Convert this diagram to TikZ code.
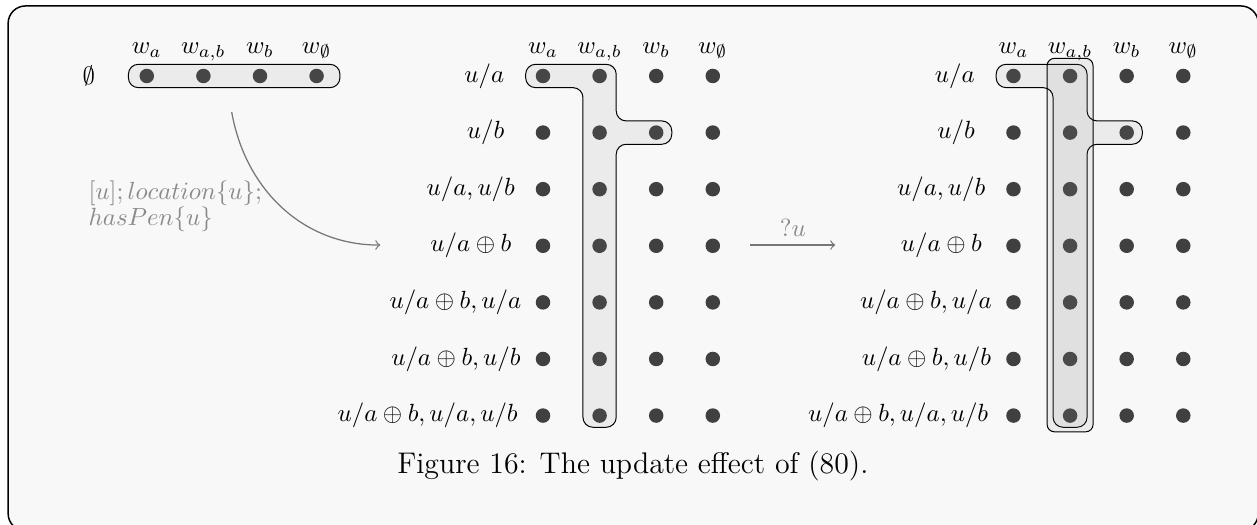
\documentclass[tikz,border=0pt]{standalone}
\usepackage{xcolor}
\usepackage{tikz}

\definecolor{dotgray}{HTML}{404040}
\definecolor{paper}{HTML}{F8F8F8}
\definecolor{labgray}{HTML}{8A8A8A}
\definecolor{arrgray}{HTML}{767676}

\tikzset{
  gdot/.style={circle,fill=dotgray,inner sep=0pt,minimum size=0.205cm},
  rowlab/.style={anchor=east,inner sep=0pt},
  collab/.style={anchor=base,inner sep=0pt},
  blob/.style={draw=black,line width=0.4pt,fill=gray,fill opacity=0.1,rounded corners=4pt},
  update/.style={draw=arrgray,line width=0.5pt,->}
}

\begin{document}
\begin{tikzpicture}
        \useasboundingbox (-7.675,-6.346) rectangle (10.092,1.074);
        \clip (-7.675,-6.346) rectangle (10.092,1.074);
        \draw[line width=0.6pt,fill=paper,rounded corners=7pt] (-7.56,-6.43) rectangle (10.11,0.99);

        % empty state
        \node (E0) at (-6.42,0) {$\emptyset$};
        \node[collab] (Ew1) at (-5.6,0.32) {$w_a$};
        \node[collab] (Ew2) at (-4.8,0.32) {$w_{a,b}$};
        \node[collab] (Ew3) at (-4.0,0.32) {$w_b$};
        \node[collab] (Ew4) at (-3.2,0.32) {$w_\emptyset$};
        \node[gdot] (E1) at (-5.6,0) {}; \node[gdot] (E2) at (-4.8,0) {}; \node[gdot] (E3) at (-4.0,0) {}; \node[gdot] (E4) at (-3.2,0) {};
        \draw[blob] (-5.86,-0.165) rectangle (-2.87,0.165);

        % after the first update
        \node[collab] (Lw1) at (0,0.32) {$w_a$};
        \node[collab] (Lw2) at (0.8,0.32) {$w_{a,b}$};
        \node[collab] (Lw3) at (1.6,0.32) {$w_b$};
        \node[collab] (Lw4) at (2.4,0.32) {$w_\emptyset$};
        \node[rowlab] (Lr1) at (-0.54,0) {$u/a$};
        \node[rowlab] (Lr2) at (-0.54,-0.8) {$u/b$};
        \node[rowlab] (Lr3) at (-0.39,-1.6) {$u/a,u/b$};
        \node[rowlab] (Lr4) at (-0.44,-2.4) {$u/a\oplus b$};
        \node[rowlab] (Lr5) at (-0.30,-3.2) {$u/a\oplus b,u/a$};
        \node[rowlab] (Lr6) at (-0.31,-4.0) {$u/a\oplus b,u/b$};
        \node[rowlab] (Lr7) at (-0.35,-4.8) {$u/a\oplus b,u/a,u/b$};
        \node[gdot] (L11) at (0,0) {}; \node[gdot] (L12) at (0.8,0) {}; \node[gdot] (L13) at (1.6,0) {}; \node[gdot] (L14) at (2.4,0) {};
        \node[gdot] (L21) at (0,-0.8) {}; \node[gdot] (L22) at (0.8,-0.8) {}; \node[gdot] (L23) at (1.6,-0.8) {}; \node[gdot] (L24) at (2.4,-0.8) {};
        \node[gdot] (L31) at (0,-1.6) {}; \node[gdot] (L32) at (0.8,-1.6) {}; \node[gdot] (L33) at (1.6,-1.6) {}; \node[gdot] (L34) at (2.4,-1.6) {};
        \node[gdot] (L41) at (0,-2.4) {}; \node[gdot] (L42) at (0.8,-2.4) {}; \node[gdot] (L43) at (1.6,-2.4) {}; \node[gdot] (L44) at (2.4,-2.4) {};
        \node[gdot] (L51) at (0,-3.2) {}; \node[gdot] (L52) at (0.8,-3.2) {}; \node[gdot] (L53) at (1.6,-3.2) {}; \node[gdot] (L54) at (2.4,-3.2) {};
        \node[gdot] (L61) at (0,-4.0) {}; \node[gdot] (L62) at (0.8,-4.0) {}; \node[gdot] (L63) at (1.6,-4.0) {}; \node[gdot] (L64) at (2.4,-4.0) {};
        \node[gdot] (L71) at (0,-4.8) {}; \node[gdot] (L72) at (0.8,-4.8) {}; \node[gdot] (L73) at (1.6,-4.8) {}; \node[gdot] (L74) at (2.4,-4.8) {};
        \draw[blob] (-0.245,0.165) -- (1.035,0.165) -- (1.035,-0.635) -- (1.82,-0.635) -- (1.82,-0.965) -- (1.035,-0.965)
              -- (1.035,-4.965) -- (0.565,-4.965) -- (0.565,-0.165) -- (-0.245,-0.165) -- cycle;

        % after ?u
        \node[collab] (Rw1) at (6.65,0.32) {$w_a$};
        \node[collab] (Rw2) at (7.45,0.32) {$w_{a,b}$};
        \node[collab] (Rw3) at (8.25,0.32) {$w_b$};
        \node[collab] (Rw4) at (9.05,0.32) {$w_\emptyset$};
        \node[rowlab] (Rr1) at (6.11,0) {$u/a$};
        \node[rowlab] (Rr2) at (6.11,-0.8) {$u/b$};
        \node[rowlab] (Rr3) at (6.26,-1.6) {$u/a,u/b$};
        \node[rowlab] (Rr4) at (6.21,-2.4) {$u/a\oplus b$};
        \node[rowlab] (Rr5) at (6.35,-3.2) {$u/a\oplus b,u/a$};
        \node[rowlab] (Rr6) at (6.34,-4.0) {$u/a\oplus b,u/b$};
        \node[rowlab] (Rr7) at (6.30,-4.8) {$u/a\oplus b,u/a,u/b$};
        \node[gdot] (R11) at (6.65,0) {}; \node[gdot] (R12) at (7.45,0) {}; \node[gdot] (R13) at (8.25,0) {}; \node[gdot] (R14) at (9.05,0) {};
        \node[gdot] (R21) at (6.65,-0.8) {}; \node[gdot] (R22) at (7.45,-0.8) {}; \node[gdot] (R23) at (8.25,-0.8) {}; \node[gdot] (R24) at (9.05,-0.8) {};
        \node[gdot] (R31) at (6.65,-1.6) {}; \node[gdot] (R32) at (7.45,-1.6) {}; \node[gdot] (R33) at (8.25,-1.6) {}; \node[gdot] (R34) at (9.05,-1.6) {};
        \node[gdot] (R41) at (6.65,-2.4) {}; \node[gdot] (R42) at (7.45,-2.4) {}; \node[gdot] (R43) at (8.25,-2.4) {}; \node[gdot] (R44) at (9.05,-2.4) {};
        \node[gdot] (R51) at (6.65,-3.2) {}; \node[gdot] (R52) at (7.45,-3.2) {}; \node[gdot] (R53) at (8.25,-3.2) {}; \node[gdot] (R54) at (9.05,-3.2) {};
        \node[gdot] (R61) at (6.65,-4.0) {}; \node[gdot] (R62) at (7.45,-4.0) {}; \node[gdot] (R63) at (8.25,-4.0) {}; \node[gdot] (R64) at (9.05,-4.0) {};
        \node[gdot] (R71) at (6.65,-4.8) {}; \node[gdot] (R72) at (7.45,-4.8) {}; \node[gdot] (R73) at (8.25,-4.8) {}; \node[gdot] (R74) at (9.05,-4.8) {};
        \draw[blob] (6.405,0.165) -- (7.69,0.165) -- (7.69,-0.635) -- (8.47,-0.635) -- (8.47,-0.965) -- (7.69,-0.965)
              -- (7.69,-4.965) -- (7.21,-4.965) -- (7.21,-0.165) -- (6.405,-0.165) -- cycle;
        \draw[blob,rounded corners=3pt] (7.125,-5.03) rectangle (7.775,0.25);

        % updates
        \coordinate (from0) at (-4.40,-0.51);
        \coordinate (to1) at (-2.30,-2.39);
        \coordinate (from1) at (2.93,-2.39);
        \coordinate (to2) at (4.13,-2.39);
        \draw[update] (from0) to[out=-80,in=180] (to1);
        \node[anchor=west,align=left,text=labgray,inner sep=0pt] (eff) at (-6.43,-1.84) {$[u]; location\{u\};$\\[-1.5pt]$hasPen\{u\}$};
        \draw[update] (from1) -- node[above,text=labgray] (qu) {$?u$} (to2);

        \node (cap) at (1.27,-5.51) {\large Figure 16: The update effect of (80).};
\end{tikzpicture}
\end{document}
